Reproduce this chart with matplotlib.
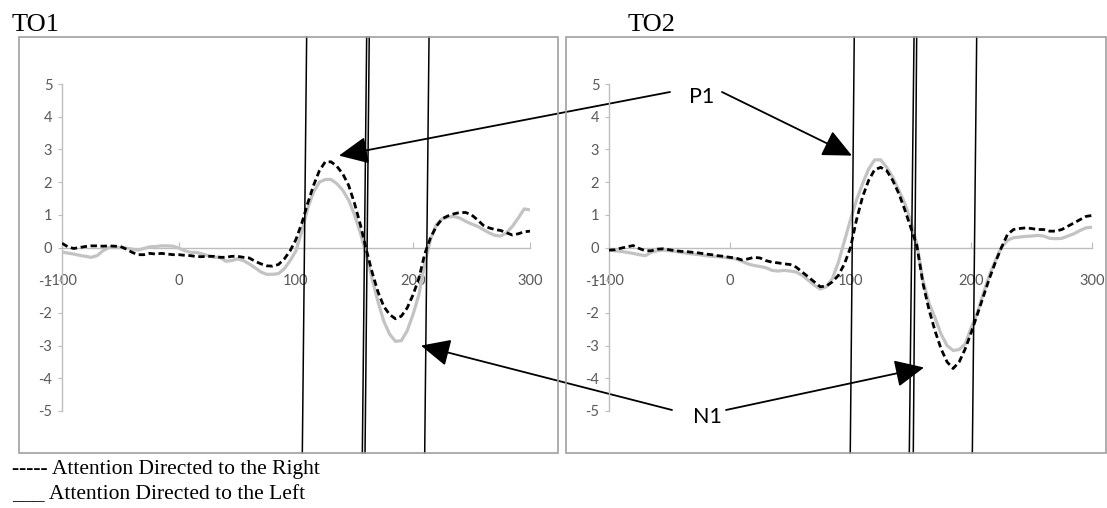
import numpy as np
import matplotlib
matplotlib.use('Agg')
import matplotlib.pyplot as plt
from matplotlib.patches import Rectangle
from matplotlib.transforms import blended_transform_factory

plt.rcParams['axes.unicode_minus'] = False

# time axis in ms, 5 ms steps
times = np.arange(-100, 301, 5)

# TO1 electrode
to1_right = [0.13, 0.02, -0.03, 0.0, 0.03, 0.05, 0.05, 0.04, 0.05, 0.04,
             0.03, -0.05, -0.15, -0.22, -0.22, -0.18, -0.2, -0.18, -0.2, -0.22,
             -0.22, -0.24, -0.25, -0.28, -0.28, -0.27, -0.27, -0.3, -0.3, -0.27,
             -0.27, -0.3, -0.32, -0.42, -0.5, -0.56, -0.57, -0.52, -0.35, -0.1,
             0.25, 0.75, 1.35, 1.9, 2.35, 2.62, 2.62, 2.48, 2.25, 1.9,
             1.35, 0.7, -0.05, -0.75, -1.35, -1.8, -2.05, -2.18, -2.1, -1.85,
             -1.45, -0.95, -0.2, 0.3, 0.65, 0.88, 0.97, 1.03, 1.07, 1.07,
             1.0, 0.85, 0.68, 0.6, 0.55, 0.52, 0.45, 0.38, 0.42, 0.48,
             0.5]
to1_left = [-0.14, -0.17, -0.2, -0.24, -0.27, -0.3, -0.25, -0.1, 0.0, 0.0,
            0.0, -0.02, -0.05, -0.08, -0.03, 0.02, 0.03, 0.05, 0.05, 0.04,
            -0.02, -0.1, -0.15, -0.15, -0.2, -0.25, -0.3, -0.3, -0.42, -0.4,
            -0.35, -0.4, -0.5, -0.62, -0.75, -0.82, -0.82, -0.8, -0.65, -0.4,
            -0.1, 0.5, 1.2, 1.7, 2.0, 2.08, 2.08, 1.95, 1.75, 1.45,
            1.0, 0.45, -0.2, -0.95, -1.65, -2.25, -2.65, -2.87, -2.85, -2.55,
            -2.05, -1.45, -0.5, 0.25, 0.7, 0.88, 0.93, 0.95, 0.9, 0.8,
            0.72, 0.65, 0.55, 0.45, 0.37, 0.35, 0.45, 0.65, 0.9, 1.18,
            1.15]

# TO2 electrode
to2_right = [-0.08, -0.07, -0.02, 0.02, 0.06, -0.03, -0.1, -0.1, -0.05, -0.04,
             -0.07, -0.1, -0.12, -0.13, -0.15, -0.17, -0.2, -0.22, -0.25, -0.27,
             -0.3, -0.32, -0.38, -0.35, -0.3, -0.32, -0.4, -0.45, -0.47, -0.5,
             -0.52, -0.6, -0.75, -0.9, -1.05, -1.2, -1.18, -1.05, -0.85, -0.5,
             0.0, 0.85, 1.55, 2.05, 2.38, 2.45, 2.35, 2.05, 1.65, 1.15,
             0.6, 0.05, -1.1, -1.9, -2.55, -3.1, -3.5, -3.7, -3.5, -3.1,
             -2.6, -2.05, -1.5, -0.95, -0.45, 0.0, 0.4, 0.55, 0.58, 0.6,
             0.58, 0.55, 0.55, 0.5, 0.5, 0.55, 0.65, 0.75, 0.85, 0.95,
             0.98]
to2_left = [-0.07, -0.1, -0.12, -0.15, -0.18, -0.22, -0.25, -0.15, -0.1, -0.08,
            -0.1, -0.12, -0.15, -0.18, -0.2, -0.22, -0.25, -0.27, -0.28, -0.3,
            -0.32, -0.35, -0.42, -0.5, -0.55, -0.58, -0.62, -0.7, -0.72, -0.7,
            -0.72, -0.75, -0.85, -1.0, -1.15, -1.27, -1.2, -0.95, -0.45, 0.2,
            0.85, 1.45, 1.95, 2.4, 2.68, 2.68, 2.45, 2.15, 1.75, 1.35,
            0.8, 0.1, -1.0, -1.7, -2.15, -2.65, -3.0, -3.15, -3.12, -2.95,
            -2.45, -2.0, -1.4, -0.85, -0.4, 0.0, 0.22, 0.3, 0.32, 0.34,
            0.35, 0.37, 0.35, 0.28, 0.27, 0.28, 0.35, 0.42, 0.52, 0.6,
            0.62]

x_ticks = [-100, 0, 100, 200, 300]
y_ticks = [5, 4, 3, 2, 1, 0, -1, -2, -3, -4, -5]

# window marker lines (ms at top / bottom of the panel box)
to1_windows = [(109.1, 105.4), (160.4, 156.7), (162.6, 159.0), (213.7, 210.0)]
to2_windows = [(103.1, 99.8), (152.6, 148.7), (154.8, 152.0), (204.5, 200.9)]

W, H = 1107, 508
fig = plt.figure(figsize=(W / 100, H / 100), dpi=100)

tick_font = ['Liberation Sans Narrow', 'Lato', 'DejaVu Sans']
serif = ['Liberation Serif', 'DejaVu Serif']


def px_rect(x0, y0, x1, y1):
    return [x0 / W, 1 - y1 / H, (x1 - x0) / W, (y1 - y0) / H]


def panel(rect, box, right, left, windows, title, title_x):
    # outer frame of the chart
    bx0, by0, bx1, by1 = box
    fig.add_artist(Rectangle((bx0 / W, 1 - by1 / H), (bx1 - bx0) / W, (by1 - by0) / H,
                             transform=fig.transFigure, fill=False,
                             ec='#a0a0a0', lw=1.2))
    fig.text(title_x / W, 1 - 31 / H, title, family=serif, fontsize=19,
             va='baseline', ha='left')

    ax = fig.add_axes(px_rect(*rect))
    ax.set_xlim(-100, 300)
    ax.set_ylim(-5, 5)
    ax.patch.set_alpha(0)
    for s in ['top', 'right']:
        ax.spines[s].set_visible(False)
    ax.spines['bottom'].set_position(('data', 0))
    for s in ['left', 'bottom']:
        ax.spines[s].set_color('#bdbdbd')
        ax.spines[s].set_linewidth(1.0)
    ax.set_xticks(x_ticks)
    ax.set_yticks(y_ticks)
    ax.tick_params(axis='x', direction='in', length=4, pad=19, color='#bdbdbd',
                   labelcolor='#595959')
    ax.tick_params(axis='y', direction='out', length=3, pad=4, color='#bdbdbd',
                   labelcolor='#595959')
    for lab in ax.get_xticklabels() + ax.get_yticklabels():
        lab.set_family(tick_font)
        lab.set_fontsize(10.5)

    ax.plot(times, left, color='#c3c3c3', lw=2.3, solid_capstyle='round', zorder=3)
    ax.plot(times, right, color='black', lw=2.0, linestyle=(0, (2.3, 1.3)), zorder=4)

    trans = blended_transform_factory(ax.transData, fig.transFigure)
    for top, bottom in windows:
        ax.plot([top, bottom], [1 - by0 / H, 1 - by1 / H], color='black', lw=1.1,
                transform=trans, clip_on=False, zorder=5)
    return ax


ax1 = panel((62, 84, 530, 411), (19, 37, 558, 453), to1_right, to1_left,
            to1_windows, 'TO1', 12)
ax2 = panel((609, 84, 1092, 411), (566, 37, 1106, 453), to2_right, to2_left,
            to2_windows, 'TO2', 628)

# component labels with arrows to both panels
label_font = ['Lato', 'DejaVu Sans']
fig.text(702 / W, 1 - 97 / H, 'P1', family=label_font, fontsize=15.5,
         ha='center', va='center')
fig.text(707 / W, 1 - 417 / H, 'N1', family=label_font, fontsize=15.5,
         ha='center', va='center')

arrow = dict(arrowstyle='-|>,head_length=0.9,head_width=0.42', mutation_scale=20,
             color='black', lw=1.3, shrinkA=0, shrinkB=0)
pointers = [
    (ax1, (136.7, 2.81), (670, 92)),
    (ax2, (101.2, 2.81), (722, 92)),
    (ax1, (206.8, -3.0), (672, 410)),
    (ax2, (160.9, -3.67), (726, 410)),
]
for ax, tip, start in pointers:
    ax.annotate('', xy=tip, xycoords='data', xytext=(start[0], H - start[1]),
                textcoords='figure pixels', arrowprops=arrow, zorder=6)

fig.text(12 / W, 1 - 474 / H, '----- Attention Directed to the Right', family=serif,
         fontsize=15.5, va='baseline')
fig.text(12 / W, 1 - 499 / H, '___ Attention Directed to the Left', family=serif,
         fontsize=15.5, va='baseline')

fig.savefig('out.png', dpi=100)
